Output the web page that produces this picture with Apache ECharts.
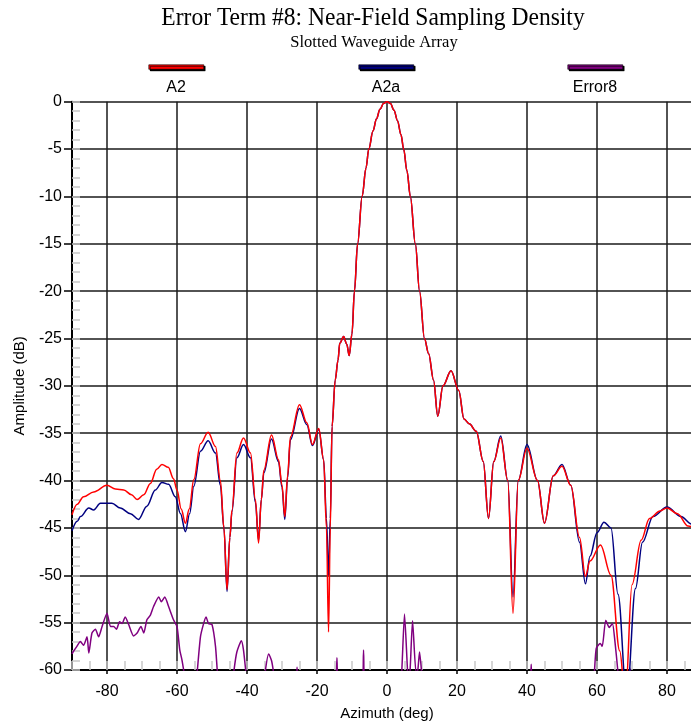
<!DOCTYPE html>
<html><head><meta charset="utf-8">
<script src="https://cdn.jsdelivr.net/npm/echarts@6/dist/echarts.min.js"></script>
<style>html,body{margin:0;padding:0;background:#fff}#c{width:691px;height:725px}</style>
</head><body><div id="c"></div>
<script>
// ---- data ----
const titleText = 'Error Term #8: Near-Field Sampling Density';
const subtitleText = 'Slotted Waveguide Array';
const seriesNames = ['A2', 'A2a', 'Error8'];
const xAxisName = 'Azimuth (deg)';
const yAxisName = 'Amplitude (dB)';

const a2Az = [-90,-88.5,-86.7,-83.8,-80,-77.6,-75.2,-73,-71.4,-69.5,-67.6,-65.8,-64.3,-62.5,-61,-60,-58.8,-57.6,-56.5,-55.2,-53.3,-51.1,-49,-47.6,-46.6,-45.7,-44.9,-44.3,-42.9,-41,-39,-37.6,-36.7,-35.9,-35.2,-33,-31,-30,-29.2,-28.4,-27.6,-25,-22.9,-21.3,-19.5,-18.1,-17.3,-16.7,-16.2,-15.7,-14.8,-14,-13.5,-12.4,-11.5,-10.8,-10,-9.3,-8.4,-7.1,-6,-5.2,-4,-3,-2,-1,0,1,2,3,4,4.76,5.7,6.67,8.1,9.3,10.7,11.9,13.3,14.5,16,18.3,20.5,22,23.5,25.5,27.5,29,30.5,32.5,34.5,36,37.5,40,43,45,47.5,50,52.5,55,56.7,58,61,64,66.5,68.1,70,72.6,75,78,80,83,86,90];
const a2Db = [-43.6,-42.5,-41.7,-41.2,-40.5,-40.9,-41.0,-41.5,-42.0,-41.5,-40.3,-38.8,-38.3,-38.6,-39.8,-41.0,-43,-44.5,-43,-39.9,-36.1,-34.9,-36.4,-40,-45,-51.5,-46,-43.1,-37.1,-35.5,-37.1,-42.0,-46.6,-42,-38.9,-35.2,-37.8,-40.5,-43.8,-39.5,-35.4,-32.0,-33.9,-36.2,-34.5,-37.8,-45,-56.0,-45,-34.3,-29.4,-27.3,-25.5,-24.8,-25.6,-26.8,-24.5,-20,-15,-10,-7,-5,-3.1,-1.8,-0.8,-0.2,0,-0.2,-0.9,-2,-3.5,-5,-7.3,-10,-15,-20,-25,-26.6,-29.4,-33.2,-30,-28.4,-30.5,-33.5,-34,-34.8,-38,-44,-38,-35.5,-40,-54,-40,-36.6,-40,-44.5,-39.5,-38.5,-40.5,-46,-50.1,-48.5,-46.8,-50,-58,-63,-51,-46.3,-44,-43.2,-42.9,-43.5,-44.8,-45.6];

const a2aAz = [-90,-88.5,-87.6,-85.2,-83.8,-81.9,-80,-78.6,-76.2,-73.3,-71,-68.6,-66.2,-64.3,-62.4,-60.5,-59,-57.6,-56.4,-55.2,-53.3,-51.1,-49,-47.6,-46.6,-45.7,-44.9,-44.3,-42.9,-41,-39,-37.6,-36.7,-35.9,-35.2,-33,-31,-30,-29.2,-28.4,-27.6,-25,-22.9,-21.3,-19.5,-18.1,-17.3,-16.7,-16.2,-15.7,-14.8,-14,-13.5,-12.4,-11.5,-10.8,-10,-9.3,-8.4,-7.1,-6,-5.2,-4,-3,-2,-1,0,1,2,3,4,4.76,5.7,6.67,8.1,9.3,10.7,11.9,13.3,14.5,16,18.3,20.5,22,23.5,25.5,27.5,29,30.5,32.5,34.5,36,37.5,40,43,45,47.5,50,52.5,55,56.7,58,60,62,64,66,68.5,71,73,76,80,84,87,90];
const a2aDb = [-45.3,-44.3,-43.8,-42.9,-43.1,-42.4,-42.4,-42.4,-42.9,-43.5,-44.1,-42.7,-41.0,-40.2,-40.4,-41.7,-43.5,-45.4,-43.5,-40.6,-36.9,-35.8,-37.1,-40.5,-45,-51.7,-46,-43.3,-37.6,-36.2,-37.6,-42.3,-46.3,-42,-39.2,-35.6,-38.0,-40.7,-44.1,-39.7,-35.7,-32.4,-34.1,-36.3,-34.6,-37.8,-44,-50,-44,-34.3,-29.4,-27.3,-25.5,-24.8,-25.6,-26.8,-24.5,-20,-15,-10,-7,-5,-3.1,-1.8,-0.8,-0.2,0,-0.2,-0.9,-2,-3.5,-5,-7.3,-10,-15,-20,-25,-26.6,-29.4,-33.2,-30,-28.4,-30.5,-33.5,-34,-34.8,-38,-44,-38,-35.3,-40,-52.3,-40,-36.2,-40,-44.5,-39.5,-38.3,-40.5,-46.5,-50.9,-48,-45.5,-44.4,-45,-52,-63,-51.4,-46.5,-43.8,-42.8,-43.8,-44.6,-45.2];

const errAz = [-90,-89.7,-88.6,-87.6,-86.7,-85.7,-85.2,-84.3,-83.3,-82.4,-81.4,-80,-79,-78.1,-77.3,-76.4,-75.7,-74.8,-73.8,-72.4,-71.4,-70.3,-69.5,-68.6,-67.6,-66.7,-65.2,-64.5,-63.5,-62.4,-61,-60,-59.2,-58.6,-57.9,-57,-55,-54.3,-53.3,-52.4,-51.7,-51,-50,-49,-48.4,-47.5,-44.5,-43.8,-42.9,-41.6,-41,-40.3,-39.5,-35.5,-34.8,-33.8,-33,-32.4,-31.5,-26.3,-25.7,-25.1,-15,-14.3,-13.7,-7.3,-6.7,-6.1,3.6,4.2,5.0,5.9,6.2,6.6,7.3,8.3,8.8,9.3,9.9,10.5,40.7,41.2,41.7,58.8,59.3,59.8,60.9,61.5,62.5,63.5,64.4,65.1,66,66.5,69,69.4,69.8,90];
const errDb = [-58.3,-58.1,-57.5,-57.0,-57.4,-56.5,-58.2,-56.1,-55.7,-56.5,-55.4,-54.0,-55.4,-55.4,-55.7,-54.9,-55.1,-54.4,-55.2,-56.4,-56.1,-55.4,-56.1,-54.7,-54.2,-53.3,-52.3,-52.8,-52.3,-53.3,-54.7,-55.4,-57.9,-58.9,-60.5,-63,-63,-60.5,-56.5,-55.1,-54.4,-55.1,-55.2,-57.5,-60.5,-63,-63,-60.3,-58.1,-56.9,-57.9,-60.3,-63,-63,-60.2,-58.3,-59,-60.3,-63,-63,-59.7,-63,-63,-58.7,-63,-63,-57.9,-63,-63,-60.3,-54.1,-60.3,-61,-60,-54.8,-60.3,-60,-58.1,-60.3,-63,-63,-59.4,-63,-63,-60,-57.7,-57.2,-57.5,-54.75,-55.5,-55.1,-56.9,-60.3,-63,-63,-59.8,-63,-63];

// ---- layout / style ----
const legendCenters = [176, 386, 595];
const colors = ['#ff0000', '#000080', '#800080'];
const zip = (xs, ys) => xs.map((x, i) => [x, ys[i]]);

const chart = echarts.init(document.getElementById('c'), null, {renderer: 'canvas'});
const serifFont = '"Liberation Serif", "Times New Roman", serif';
const sansFont = '"Liberation Sans", Arial, sans-serif';
const gridBox = {left: 72, top: 101.7, width: 630, height: 568.3, containLabel: false, outerBoundsMode: 'none'};
const gridLine = {show: true, lineStyle: {color: '#1a1a1a', width: 1.5}};

const texts = [
  {type: 'text', x: 373, y: 18.5, scaleX: 0.905, z: 10,
   style: {text: titleText, align: 'center', verticalAlign: 'middle', fontFamily: serifFont, fontSize: 26, fill: '#000'}},
  {type: 'text', x: 374, y: 42.5, z: 10,
   style: {text: subtitleText, align: 'center', verticalAlign: 'middle', fontFamily: serifFont, fontSize: 16.5, fill: '#000'}}
].concat(seriesNames.map((n, i) => ({
  type: 'text', x: legendCenters[i], y: 88, z: 10,
  style: {text: n, align: 'center', verticalAlign: 'middle', fontFamily: sansFont, fontSize: 16, fill: '#000'}
})));

chart.setOption({
  animation: false,
  backgroundColor: '#fff',
  legend: seriesNames.map((n, i) => ({
    data: [n], left: legendCenters[i] - 27.5, top: 64.5, padding: 0, itemGap: 0,
    itemWidth: 55, itemHeight: 4.5, icon: 'rect', selectedMode: false,
    formatter: () => '', textStyle: {fontSize: 1},
    itemStyle: {color: colors[i], borderColor: '#000', borderWidth: 0.6, shadowColor: '#000', shadowOffsetX: 1.5, shadowOffsetY: 1.5, shadowBlur: 0.5}
  })),
  graphic: texts,
  grid: [Object.assign({}, gridBox), Object.assign({}, gridBox)],
  xAxis: [
    {type: 'value', gridIndex: 0, min: -90, max: 90, splitNumber: 9, position: 'bottom',
     name: xAxisName, nameLocation: 'middle', nameGap: 36,
     nameTextStyle: {fontFamily: sansFont, fontSize: 15, color: '#000'},
     axisLine: {show: true, onZero: false, lineStyle: {color: '#000', width: 2}},
     axisTick: {show: true, length: 4, lineStyle: {color: '#000', width: 1.5}},
     axisLabel: {showMinLabel: false, showMaxLabel: false, margin: 14, fontFamily: sansFont, fontSize: 16, color: '#000'},
     splitLine: gridLine},
    {type: 'value', gridIndex: 1, min: -90, max: 90, interval: 5, position: 'bottom',
     axisLine: {show: false, onZero: false}, axisLabel: {show: false}, splitLine: {show: false},
     axisTick: {show: true, inside: true, length: 9, lineStyle: {color: '#c8c8c8', width: 1.5}}}
  ],
  yAxis: [
    {type: 'value', gridIndex: 0, min: -60, max: 0, interval: 5, position: 'left',
     name: yAxisName, nameLocation: 'middle', nameGap: 45,
     nameTextStyle: {fontFamily: sansFont, fontSize: 15, color: '#000'},
     axisLine: {show: true, onZero: false, lineStyle: {color: '#000', width: 2}},
     axisTick: {show: true, length: 8, lineStyle: {color: '#000', width: 1.5}},
     axisLabel: {margin: 10, fontFamily: sansFont, fontSize: 16, color: '#000'},
     splitLine: gridLine},
    {type: 'value', gridIndex: 1, min: -60, max: 0, interval: 1, position: 'left',
     axisLine: {show: false, onZero: false}, axisLabel: {show: false}, splitLine: {show: false},
     axisTick: {show: true, inside: true, length: 8, lineStyle: {color: '#c8c8c8', width: 1.5}}}
  ],
  series: [
    {name: seriesNames[2], type: 'line', xAxisIndex: 0, yAxisIndex: 0, data: zip(errAz, errDb), showSymbol: false, smooth: 0.2, clip: true, z: 3,
     lineStyle: {color: colors[2], width: 1.5}, itemStyle: {color: colors[2]}},
    {name: seriesNames[1], type: 'line', xAxisIndex: 0, yAxisIndex: 0, data: zip(a2aAz, a2aDb), showSymbol: false, smooth: 0.35, smoothMonotone: 'x', clip: true, z: 4,
     lineStyle: {color: colors[1], width: 1.5}, itemStyle: {color: colors[1]}},
    {name: seriesNames[0], type: 'line', xAxisIndex: 0, yAxisIndex: 0, data: zip(a2Az, a2Db), showSymbol: false, smooth: 0.35, smoothMonotone: 'x', clip: true, z: 5,
     lineStyle: {color: colors[0], width: 1.5}, itemStyle: {color: colors[0]}}
  ]
});
</script>
</body></html>
